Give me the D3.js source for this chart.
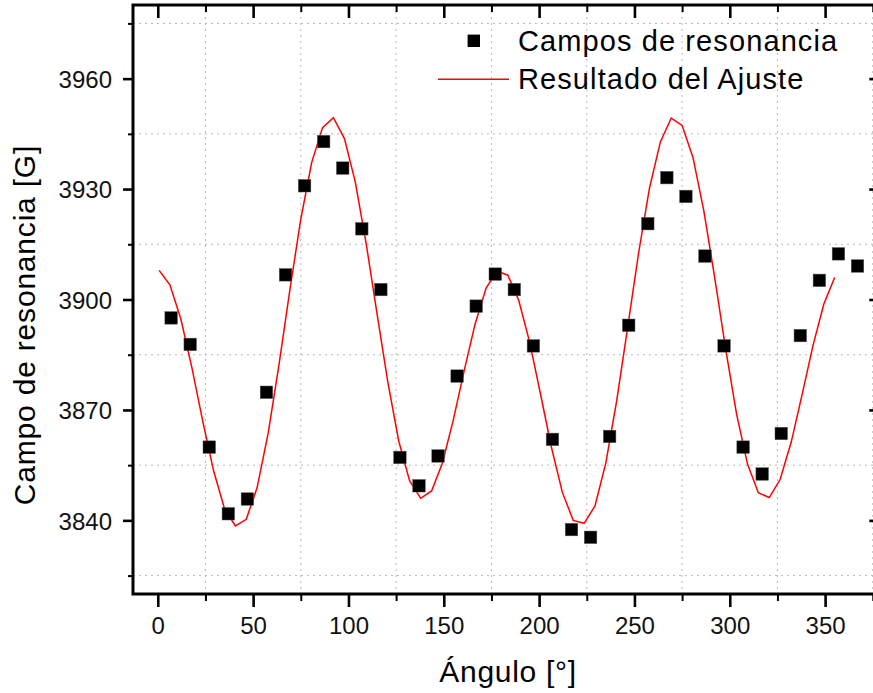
<!DOCTYPE html>
<html><head><meta charset="utf-8">
<script src="https://cdn.jsdelivr.net/npm/d3@7"></script>
<style>body{margin:0;background:#fff}svg{display:block}</style>
</head><body>
<svg id="chart" width="873" height="693"></svg>
<script>
// ---- data ----
const angles = [7,17,27,37,47,57,67,77,87,97,107,117,127,137,147,157,167,177,187,197,207,217,227,237,247,257,267,277,287,297,307,317,327,337,347,357,367];
const campos = [3895.0,3887.8,3859.9,3841.8,3845.8,3874.8,3906.7,3930.9,3942.9,3935.7,3919.2,3902.7,3857.1,3849.4,3857.5,3879.2,3898.2,3906.9,3902.7,3887.4,3862.0,3837.5,3835.4,3862.8,3893.0,3920.6,3933.1,3928.0,3911.8,3887.4,3859.9,3852.6,3863.6,3890.2,3905.2,3912.4,3909.1];
const fitAngles = [0.7,6.4,12.1,17.8,23.6,29.3,35.0,40.7,46.4,52.1,57.9,63.6,69.3,75.0,80.7,86.4,92.1,97.9,103.6,109.3,115.0,120.7,126.4,132.1,137.9,143.6,149.3,155.0,160.7,166.4,172.2,177.9,183.6,189.3,195.0,200.7,206.4,212.2,217.9,223.6,229.3,235.0,240.7,246.4,252.2,257.9,263.6,269.3,275.0,280.7,286.4,292.2,297.9,303.6,309.3,315.0,320.7,326.4,332.2,337.9,343.6,349.3,355.0];
const fitValues = [3907.9,3903.9,3894.7,3881.7,3866.9,3853.4,3843.2,3838.5,3840.3,3848.9,3863.7,3882.4,3902.7,3921.8,3937.2,3946.7,3949.4,3943.7,3931.9,3915.2,3896.1,3877.4,3861.5,3850.7,3846.0,3848.0,3855.6,3867.3,3880.7,3893.3,3903.1,3907.7,3906.6,3899.8,3888.5,3874.4,3860.0,3847.6,3840.0,3839.2,3843.9,3855.6,3872.5,3892.3,3912.7,3930.3,3942.8,3949.3,3947.3,3938.6,3924.1,3905.6,3886.4,3868.8,3855.3,3847.5,3846.2,3851.1,3861.2,3874.1,3887.4,3898.7,3906.0];
const xTickValues = [0,50,100,150,200,250,300,350];
const xMinorValues = [25,75,125,175,225,275,325,375];
const yTickValues = [3840,3870,3900,3930,3960];
const yMinorValues = [3825,3855,3885,3915,3945,3975];
const legendLabels = ["Campos de resonancia","Resultado del Ajuste"];
const xTitle = "Ángulo [°]";
const yTitle = "Campo de resonancia [G]";

// ---- drawing ----
const FONT = "'Liberation Sans', Arial, Helvetica, sans-serif";
const svg = d3.select("#chart");
svg.append("rect").attr("width",873).attr("height",693).attr("fill","#fff");
const L=133, R=882.3, T=5, B=594;
const x = d3.scaleLinear().domain([-13,380]).range([L,R]);
const y = d3.scaleLinear().domain([3820,3980]).range([B,T]);

// grid
const grid = svg.append("g").attr("stroke","#b8b8b8").attr("stroke-width",1).attr("stroke-dasharray","2,4");
grid.selectAll("line.v").data(xMinorValues).join("line").attr("class","v")
  .attr("x1",d=>x(d)).attr("x2",d=>x(d)).attr("y1",T).attr("y2",B);
grid.selectAll("line.h").data(yMinorValues).join("line").attr("class","h")
  .attr("y1",d=>y(d)).attr("y2",d=>y(d)).attr("x1",L).attr("x2",R);

function styleAxis(g, w){
  g.select(".domain").remove();
  g.selectAll(".tick line").attr("stroke","#000").attr("stroke-width",w);
  g.selectAll("text").attr("font-family",FONT).attr("font-size",24).attr("fill","#111");
}
// bottom
const gb = svg.append("g").attr("transform",`translate(0,${B})`)
  .call(d3.axisBottom(x).tickValues(xTickValues).tickSize(13).tickPadding(10).tickFormat(d3.format("d")));
styleAxis(gb,2.6);
const gbm = svg.append("g").attr("transform",`translate(0,${B})`)
  .call(d3.axisBottom(x).tickValues(xMinorValues).tickSize(7).tickFormat(""));
styleAxis(gbm,2);
// top
const gt = svg.append("g").attr("transform",`translate(0,${T})`)
  .call(d3.axisTop(x).tickValues(xTickValues).tickSize(-13).tickFormat(""));
styleAxis(gt,2.6);
const gtm = svg.append("g").attr("transform",`translate(0,${T})`)
  .call(d3.axisTop(x).tickValues(xMinorValues).tickSize(-7).tickFormat(""));
styleAxis(gtm,2);
// left
const gl = svg.append("g").attr("transform",`translate(${L},0)`)
  .call(d3.axisLeft(y).tickValues(yTickValues).tickSize(10).tickPadding(11).tickFormat(d3.format("d")));
styleAxis(gl,2.6);
gl.selectAll("text").attr("dy","0.36em");
const glm = svg.append("g").attr("transform",`translate(${L},0)`)
  .call(d3.axisLeft(y).tickValues(yMinorValues).tickSize(5).tickFormat(""));
styleAxis(glm,2);
// right
const gr = svg.append("g").attr("transform",`translate(${R},0)`)
  .call(d3.axisRight(y).tickValues(yTickValues).tickSize(-13).tickFormat(""));
styleAxis(gr,2.6);
const grm = svg.append("g").attr("transform",`translate(${R},0)`)
  .call(d3.axisRight(y).tickValues(yMinorValues).tickSize(-7).tickFormat(""));
styleAxis(grm,2);

// frame
svg.append("rect").attr("x",L).attr("y",T).attr("width",R-L).attr("height",B-T)
  .attr("fill","none").attr("stroke","#000").attr("stroke-width",3);

// fit line
const line = d3.line().x((d,i)=>x(fitAngles[i])).y(d=>y(d));
svg.append("path").datum(fitValues).attr("d",line)
  .attr("fill","none").attr("stroke","#ff0000").attr("stroke-width",1.5).attr("stroke-linejoin","miter");

// data squares
const S = 12.5;
svg.append("g").selectAll("rect").data(campos).join("rect")
  .attr("x",(d,i)=>x(angles[i])-S/2).attr("y",d=>y(d)-S/2)
  .attr("width",S).attr("height",S).attr("fill","#000").attr("stroke","#555").attr("stroke-width",0.5);

// legend
const lg = svg.append("g");
lg.append("rect").attr("x",473.8-6.2).attr("y",40.8-6.2).attr("width",12.4).attr("height",12.4).attr("fill","#000");
lg.append("line").attr("x1",438).attr("x2",509).attr("y1",79.3).attr("y2",79.3).attr("stroke","#ff0000").attr("stroke-width",1.5);
lg.selectAll("text").data(legendLabels).join("text")
  .attr("x",518).attr("y",(d,i)=>51+i*38)
  .attr("font-family",FONT).attr("font-size",29).attr("letter-spacing","1.1px").attr("fill","#000")
  .text(d=>d);

// axis titles
svg.append("text").attr("x",508).attr("y",682).attr("text-anchor","middle")
  .attr("font-family",FONT).attr("font-size",30).attr("letter-spacing","0.7px").attr("fill","#000").text(xTitle);
svg.append("text").attr("transform","translate(35,325) rotate(-90)").attr("text-anchor","middle")
  .attr("font-family",FONT).attr("font-size",30).attr("letter-spacing","0.8px").attr("fill","#000").text(yTitle);
</script>
</body></html>
